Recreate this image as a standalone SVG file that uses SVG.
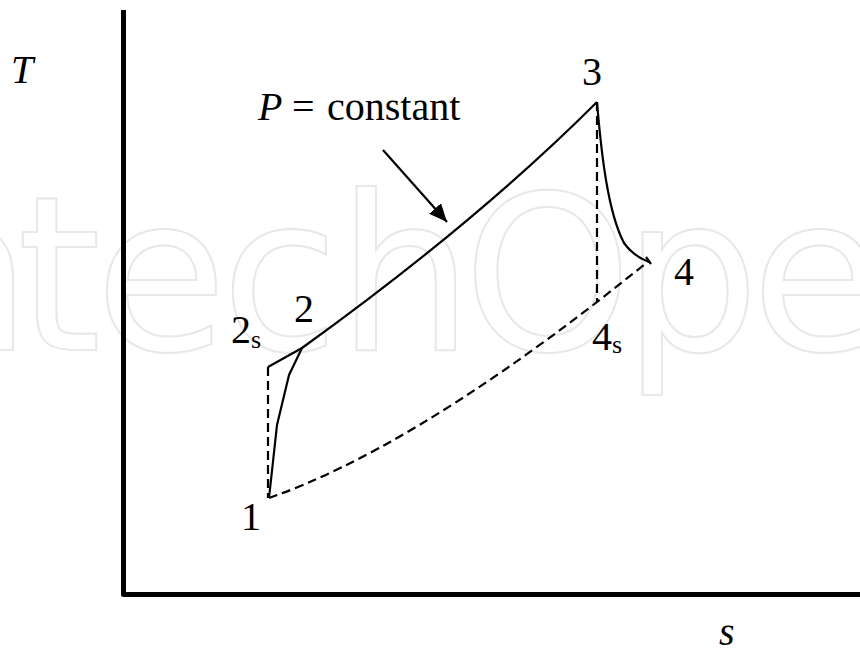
<svg xmlns="http://www.w3.org/2000/svg" width="860" height="651" viewBox="0 0 860 651">
<defs>
<style>
.lbl{font-size:40px;fill:#000}
.it{font-style:italic}
.sub{font-size:26px}
.wm{font-size:215px;fill:none;stroke:#e8e8e8;stroke-width:2}
.solid{fill:none;stroke:#000;stroke-width:2.2;stroke-linejoin:round}
.dash{fill:none;stroke:#000;stroke-width:2.2;stroke-dasharray:9 5}
.axis{fill:none;stroke:#000;stroke-width:5;stroke-linejoin:round}
</style>
<marker id="ah" markerUnits="userSpaceOnUse" markerWidth="20" markerHeight="16" refX="18" refY="8" orient="auto">
<path d="M0,0 L18,8 L0,16 Z" fill="#000"/>
</marker>
</defs>
<rect width="860" height="651" fill="#fff"/>
<g id="watermark">
<text class="wm" font-family="DejaVu Sans, sans-serif" x="-168 -105 17 95 221 337 463 623 751 883" y="350">IntechOpen</text>
</g>
<g id="axes">
<path class="axis" d="M123.5,10 L123.5,594.5 L860,594.5"/>
</g>
<g id="connectors">
<path class="solid" d="M268,367 L302,348 Q477,222 597,102"/>
<path class="solid" d="M597,102 Q601,150 606,180 Q613,222 624,243 Q633,256 649,262"/>
<path class="solid" d="M269,498 L277,425 L289,375 L302,348"/>
<path class="dash" d="M268,367 L268,498"/>
<path class="dash" d="M597,102 L597,302"/>
<path class="dash" d="M269,498 Q404,451 597,302 L649,261"/>
<path class="solid" d="M646,257 L651,264"/>
<line class="solid" x1="383" y1="150" x2="447" y2="222" marker-end="url(#ah)"/>
</g>
<g id="labels" font-family="'Liberation Serif', 'Times New Roman', serif">
<text id="lbl-T" class="lbl it" x="11" y="83">T</text>
<text id="lbl-s" class="lbl it" x="719" y="645">s</text>
<text id="lbl-P" class="lbl" x="258" y="120"><tspan class="it">P</tspan><tspan x="292">=</tspan><tspan x="327">constant</tspan></text>
<text id="lbl-3" class="lbl" x="582" y="85">3</text>
<text id="lbl-2" class="lbl" x="294" y="322">2</text>
<text id="lbl-2s" class="lbl" x="231" y="343">2<tspan class="sub" x="251" y="348">s</tspan></text>
<text id="lbl-4" class="lbl" x="674" y="285">4</text>
<text id="lbl-4s" class="lbl" x="592" y="350">4<tspan class="sub" x="612" y="353">s</tspan></text>
<text id="lbl-1" class="lbl" x="241" y="530">1</text>
</g>
</svg>
